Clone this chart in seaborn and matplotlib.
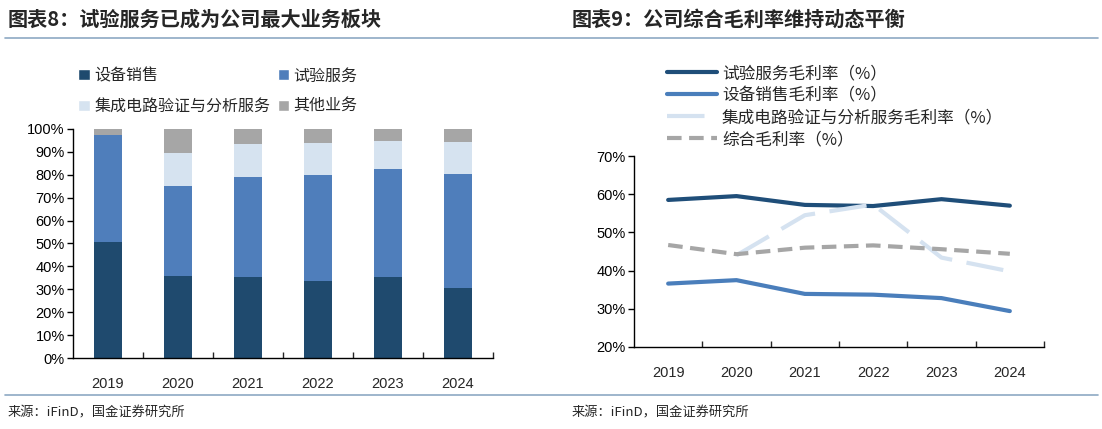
import numpy as np
import pandas as pd
import matplotlib
matplotlib.use("Agg")
import matplotlib.pyplot as plt
import seaborn as sns
from matplotlib.lines import Line2D
from matplotlib.patches import Patch

sns.set_theme(style="white")
plt.rcParams['font.family'] = ['Liberation Sans', 'Noto Sans CJK SC', 'DejaVu Sans']
CJK = ['Noto Sans CJK SC', 'DejaVu Sans']

# ---- data ----
years = ['2019', '2020', '2021', '2022', '2023', '2024']

# left: revenue share (%)
share_equip = [50.7, 36.0, 35.2, 33.6, 35.3, 30.5]
share_test = [46.5, 39.1, 43.7, 46.5, 47.4, 49.9]
share_ic = [0.0, 14.4, 14.6, 13.9, 12.1, 14.1]
share_other = [2.8, 10.5, 6.5, 6.0, 5.2, 5.5]
share_names = ['设备销售', '试验服务', '集成电路验证与分析服务', '其他业务']

# right: gross margin (%)
gm_test = [58.5, 59.5, 57.2, 56.9, 58.7, 57.0]
gm_equip = [36.6, 37.5, 33.9, 33.7, 32.8, 29.4]
gm_ic = [np.nan, 44.0, 54.5, 57.3, 43.4, 39.8]
gm_total = [46.7, 44.3, 46.0, 46.6, 45.6, 44.4]
gm_names = ['试验服务毛利率（%）', '设备销售毛利率（%）',
            '集成电路验证与分析服务毛利率（%）', '综合毛利率（%）']

c_dark = '#1F4A6E'
c_blue = '#4F7EBB'
c_light = '#D6E3F0'
c_gray = '#A6A6A6'
c_rule = '#8DA9C4'

W, H = 1102, 429
fig = plt.figure(figsize=(W / 100, H / 100), dpi=100)


def px_axes(x0, y0, x1, y1):
    return fig.add_axes([x0 / W, 1 - y1 / H, (x1 - x0) / W, (y1 - y0) / H])


def style_axes(ax):
    for s in ['top', 'right']:
        ax.spines[s].set_visible(False)
    for s in ['left', 'bottom']:
        ax.spines[s].set_color('black')
        ax.spines[s].set_linewidth(1.0)
    ax.tick_params(axis='y', which='both', left=True, direction='out', length=4,
                   width=1, labelsize=10.5, colors='black', pad=2)
    ax.tick_params(axis='x', which='major', bottom=False, labelsize=10.5, pad=8)
    ax.set_xticks(np.arange(len(years)))
    ax.set_xticklabels(years)
    ax.set_xticks(np.arange(len(years)) + 0.5, minor=True)
    ax.tick_params(axis='x', which='minor', bottom=True, direction='in', length=4, width=1)
    ax.set_xlim(-0.5, len(years) - 0.5)
    ax.grid(False)
    ax.set_xlabel('')
    ax.set_ylabel('')


# ---- left: stacked share bars ----
ax1 = px_axes(73, 129, 493, 358)
df = pd.DataFrame({'year': years, 'equip': share_equip, 'test': share_test,
                   'ic': share_ic, 'other': share_other})
cum = df[['equip', 'test', 'ic', 'other']].cumsum(axis=1)
pos = np.arange(len(years))
for col, color in [('other', c_gray), ('ic', c_light), ('test', c_blue), ('equip', c_dark)]:
    sns.barplot(x=pos, y=cum[col].values, color=color, width=0.41, ax=ax1,
                native_scale=True, saturation=1, linewidth=0)
ax1.set_ylim(0, 100)
ax1.set_yticks(np.arange(0, 101, 10))
ax1.set_yticklabels([f'{v}%' for v in range(0, 101, 10)])
style_axes(ax1)

handles = [Patch(facecolor=c_dark), Patch(facecolor=c_light),
           Patch(facecolor=c_blue), Patch(facecolor=c_gray)]
labels = [share_names[0], share_names[2], share_names[1], share_names[3]]
fig.legend(handles, labels, loc='upper left', bbox_to_anchor=(64 / W, 1 - 53 / H),
           ncol=2, frameon=False, handlelength=0.7, handleheight=0.7,
           handletextpad=0.3, columnspacing=0.45, labelspacing=0.85,
           prop={'family': CJK, 'size': 11.5})

# ---- right: gross margin lines ----
ax2 = px_axes(634, 156, 1044, 347)
sns.lineplot(x=pos, y=gm_test, color='#1F4E79', lw=3, ax=ax2)
sns.lineplot(x=pos, y=gm_equip, color='#4A7EBB', lw=3, ax=ax2)
sns.lineplot(x=pos, y=gm_ic, color='#D5E2F0', lw=3, ls=(0, (9, 3.5)), ax=ax2)
sns.lineplot(x=pos, y=gm_total, color=c_gray, lw=3, ls=(0, (3.5, 1.8)), ax=ax2)
ax2.set_ylim(20, 70)
ax2.set_yticks(np.arange(20, 71, 10))
ax2.set_yticklabels([f'{v}%' for v in range(20, 71, 10)])
style_axes(ax2)

lh = [Line2D([], [], color='#1F4E79', lw=3),
      Line2D([], [], color='#4A7EBB', lw=3),
      Line2D([], [], color='#D5E2F0', lw=3, ls=(0, (9, 3.5))),
      Line2D([], [], color=c_gray, lw=3, ls=(0, (3.5, 1.8)))]
fig.legend(lh, gm_names, loc='upper left', bbox_to_anchor=(652 / W, 1 - 50 / H),
           ncol=1, frameon=False, handlelength=3.0, handletextpad=0.3,
           labelspacing=0.3, prop={'family': CJK, 'size': 12})

# ---- titles, rules, sources ----
fig.text(8 / W, 1 - 19 / H, '图表8：试验服务已成为公司最大业务板块', ha='left', va='center',
         family=CJK, fontsize=14.5, fontweight='bold', style='italic')
fig.text(572 / W, 1 - 19 / H, '图表9：公司综合毛利率维持动态平衡', ha='left', va='center',
         family=CJK, fontsize=14.5, fontweight='bold', style='italic')
for yy in [38, 395]:
    fig.add_artist(Line2D([5 / W, 1098 / W], [1 - yy / H, 1 - yy / H],
                          color=c_rule, lw=1.2))
fig.text(8 / W, 1 - 413 / H, '来源：iFinD，国金证券研究所', ha='left', va='center',
         family=CJK, fontsize=9.5)
fig.text(572 / W, 1 - 413 / H, '来源：iFinD，国金证券研究所', ha='left', va='center',
         family=CJK, fontsize=9.5)

fig.savefig('out.png', dpi=100, facecolor='white')
